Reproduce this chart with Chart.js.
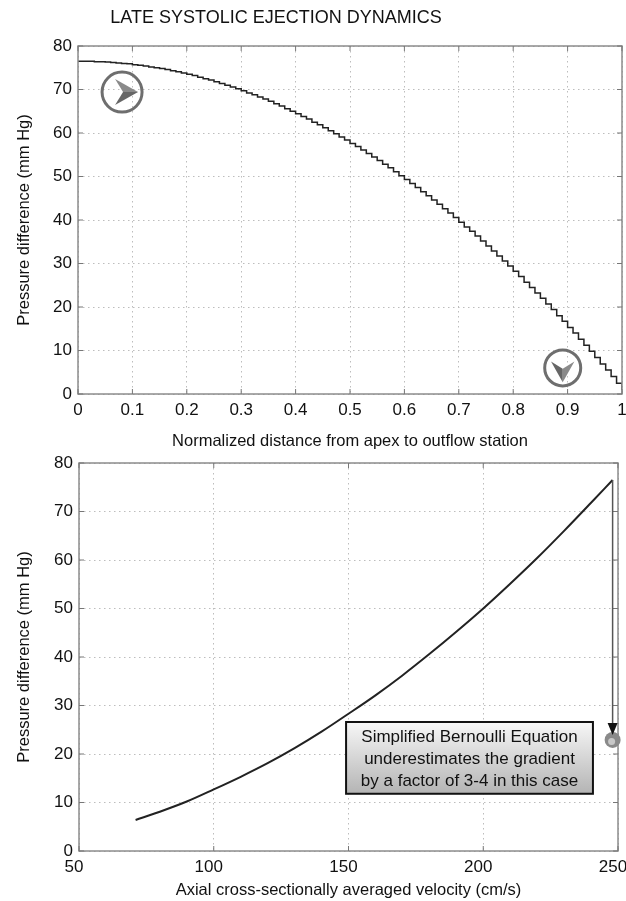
<!DOCTYPE html>
<html>
<head>
<meta charset="utf-8">
<script src="https://cdn.jsdelivr.net/npm/chart.js@4.4.1/dist/chart.umd.min.js"></script>
<style>
  body { margin: 0; background: #fff; width: 626px; height: 901px; overflow: hidden; position: relative; }
  #top { position: absolute; left: 0; top: 0; width: 626px; height: 452px; }
  #bottom { position: absolute; left: 0; top: 452px; width: 626px; height: 449px; }
</style>
</head>
<body>
<div id="top"><canvas id="distChart"></canvas></div>
<div id="bottom"><canvas id="velChart"></canvas></div>
<script>
// top panel: pressure difference along the normalized distance (stepped trace)
const distance = [
  0, 0.01, 0.02, 0.03, 0.04, 0.05, 0.06, 0.07, 0.08, 0.09,
  0.1, 0.11, 0.12, 0.13, 0.14, 0.15, 0.16, 0.17, 0.18, 0.19,
  0.2, 0.21, 0.22, 0.23, 0.24, 0.25, 0.26, 0.27, 0.28, 0.29,
  0.3, 0.31, 0.32, 0.33, 0.34, 0.35, 0.36, 0.37, 0.38, 0.39,
  0.4, 0.41, 0.42, 0.43, 0.44, 0.45, 0.46, 0.47, 0.48, 0.49,
  0.5, 0.51, 0.52, 0.53, 0.54, 0.55, 0.56, 0.57, 0.58, 0.59,
  0.6, 0.61, 0.62, 0.63, 0.64, 0.65, 0.66, 0.67, 0.68, 0.69,
  0.7, 0.71, 0.72, 0.73, 0.74, 0.75, 0.76, 0.77, 0.78, 0.79,
  0.8, 0.81, 0.82, 0.83, 0.84, 0.85, 0.86, 0.87, 0.88, 0.89,
  0.9, 0.91, 0.92, 0.93, 0.94, 0.95, 0.96, 0.97, 0.98, 0.99, 1
];
const pressureAlong = [
  76.5, 76.5, 76.5, 76.4, 76.4, 76.3, 76.2, 76.1, 76.0, 75.9,
  75.7, 75.6, 75.4, 75.2, 75.0, 74.8, 74.6, 74.3, 74.1, 73.8,
  73.5, 73.2, 72.8, 72.5, 72.2, 71.8, 71.4, 71.0, 70.6, 70.2,
  69.7, 69.2, 68.8, 68.3, 67.8, 67.3, 66.7, 66.2, 65.6, 65.0,
  64.4, 63.8, 63.2, 62.5, 61.9, 61.2, 60.5, 59.8, 59.1, 58.4,
  57.6, 56.9, 56.1, 55.3, 54.5, 53.7, 52.8, 52.0, 51.1, 50.2,
  49.3, 48.4, 47.5, 46.5, 45.6, 44.6, 43.6, 42.6, 41.6, 40.6,
  39.5, 38.4, 37.4, 36.3, 35.2, 34.0, 32.9, 31.7, 30.6, 29.4,
  28.2, 27.0, 25.7, 24.5, 23.2, 22.0, 20.7, 19.4, 18.0, 16.7,
  15.3, 14.0, 12.6, 11.2, 9.8, 8.4, 6.9, 5.5, 4.0, 2.5, 1.0
];

// bottom panel: pressure difference vs averaged velocity
const velocity = [71, 80, 90, 100, 110, 120, 130, 140, 150, 160, 170, 180, 190, 200, 210, 220, 230, 240, 248];
const pressureVsVel = [6.4, 8.1, 10.2, 12.7, 15.3, 18.1, 21.2, 24.6, 28.3, 32.1, 36.2, 40.6, 45.2, 50.0, 55.1, 60.4, 66.0, 71.8, 76.5];

// simplified Bernoulli estimate (marker) and note
const bernoulliPoint = { x: 248, y: 22.9 };
const noteLines = ["Simplified Bernoulli Equation", "underestimates the gradient", "by a factor of 3-4 in this case"];
const figureTitle = "LATE SYSTOLIC EJECTION DYNAMICS";

const FONT = "'Liberation Sans', Arial, sans-serif";
const TXT = "#111";
const GRID = "#bdbdbd";

// box around plot + small inward ticks like the original
const frame = {
  id: "frame",
  afterDatasetsDraw(chart) {
    const { ctx, chartArea: a, scales } = chart;
    ctx.save();
    ctx.strokeStyle = "#8c8c8c";
    ctx.lineWidth = 1.5;
    ctx.strokeRect(a.left, a.top, a.right - a.left, a.bottom - a.top);
    ctx.lineWidth = 1;
    ctx.strokeStyle = "#777";
    ctx.beginPath();
    scales.x.ticks.forEach(t => {
      const px = scales.x.getPixelForValue(t.value);
      ctx.moveTo(px, a.bottom); ctx.lineTo(px, a.bottom - 5);
      ctx.moveTo(px, a.top); ctx.lineTo(px, a.top + 5);
    });
    scales.y.ticks.forEach(t => {
      const py = scales.y.getPixelForValue(t.value);
      ctx.moveTo(a.left, py); ctx.lineTo(a.left + 5, py);
      ctx.moveTo(a.right, py); ctx.lineTo(a.right - 5, py);
    });
    ctx.stroke();
    ctx.restore();
  }
};

// figure title sits left of the axes centre in the original
const topTitle = {
  id: "topTitle",
  afterDraw(chart) {
    const ctx = chart.ctx;
    ctx.save();
    ctx.fillStyle = TXT;
    ctx.font = "18px " + FONT;
    ctx.textAlign = "center";
    ctx.textBaseline = "middle";
    ctx.fillText(figureTitle, 276, 18);
    ctx.restore();
  }
};

function arrowBadge(ctx, cx, cy, r, angle) {
  ctx.save();
  ctx.translate(cx, cy);
  ctx.beginPath();
  ctx.arc(0, 0, r, 0, Math.PI * 2);
  ctx.lineWidth = 3;
  ctx.strokeStyle = "#6e6e6e";
  ctx.stroke();
  ctx.rotate(angle);
  const k = r / 20;
  ctx.beginPath();
  ctx.moveTo(16 * k, 0); ctx.lineTo(-7 * k, -13 * k); ctx.lineTo(1 * k, 0); ctx.closePath();
  ctx.fillStyle = "#8a8a8a";
  ctx.fill();
  ctx.beginPath();
  ctx.moveTo(16 * k, 0); ctx.lineTo(1 * k, 0); ctx.lineTo(-7 * k, 13 * k); ctx.closePath();
  ctx.fillStyle = "#666";
  ctx.fill();
  ctx.restore();
}

const badges = {
  id: "badges",
  afterDraw(chart) {
    const { ctx, scales: { x, y } } = chart;
    arrowBadge(ctx, x.getPixelForValue(0.081), y.getPixelForValue(69.4), 20, 0);
    arrowBadge(ctx, x.getPixelForValue(0.891), y.getPixelForValue(6.0), 18, Math.PI / 2);
  }
};

const note = {
  id: "note",
  afterDraw(chart) {
    const { ctx, scales: { x, y } } = chart;
    ctx.save();
    // drop arrow from curve end to the Bernoulli estimate
    const ax = x.getPixelForValue(bernoulliPoint.x);
    const yTop = y.getPixelForValue(76.5);
    const yTip = y.getPixelForValue(bernoulliPoint.y) - 6;
    ctx.strokeStyle = "#555";
    ctx.lineWidth = 1.5;
    ctx.beginPath();
    ctx.moveTo(ax, yTop); ctx.lineTo(ax, yTip - 8);
    ctx.stroke();
    const cy = y.getPixelForValue(bernoulliPoint.y);
    ctx.beginPath();
    ctx.arc(ax, cy, 8, 0, Math.PI * 2);
    ctx.fillStyle = "#8a8a8a";
    ctx.fill();
    ctx.beginPath();
    ctx.arc(ax - 1, cy + 1.5, 3.5, 0, Math.PI * 2);
    ctx.fillStyle = "#c8c8c8";
    ctx.fill();
    ctx.beginPath();
    ctx.moveTo(ax, yTip + 1); ctx.lineTo(ax - 5, yTip - 11); ctx.lineTo(ax + 5, yTip - 11); ctx.closePath();
    ctx.fillStyle = "#111";
    ctx.fill();

    // text box
    const l = x.getPixelForValue(149.1), r = x.getPixelForValue(240.7);
    const t = y.getPixelForValue(26.6), b = y.getPixelForValue(11.8);
    const g = ctx.createLinearGradient(0, t, 0, b);
    g.addColorStop(0, "#f7f7f7");
    g.addColorStop(1, "#b4b4b4");
    ctx.fillStyle = g;
    ctx.fillRect(l, t, r - l, b - t);
    ctx.strokeStyle = "#111";
    ctx.lineWidth = 2;
    ctx.strokeRect(l, t, r - l, b - t);
    ctx.fillStyle = TXT;
    ctx.font = "17px " + FONT;
    ctx.textAlign = "center";
    ctx.textBaseline = "middle";
    noteLines.forEach((s, i) => ctx.fillText(s, (l + r) / 2, t + 15 + i * 22));
    ctx.restore();
  }
};

function fixWidth(w) {
  return scale => { scale.width = w; scale.paddingTop = 0; scale.paddingBottom = 0; };
}
function fixHeight(h) {
  return scale => { scale.height = h; scale.paddingLeft = 0; scale.paddingRight = 0; };
}

function axisOpts(min, max, step, title, titlePad) {
  return {
    type: "linear",
    min: min,
    max: max,
    border: { display: false, dash: [1.5, 3.5] },
    grid: { color: GRID, drawTicks: false, lineWidth: 1 },
    ticks: {
      stepSize: step, color: TXT, font: { family: FONT, size: 17 }, padding: 6, maxRotation: 0, autoSkip: false,
      callback: v => String(Math.round(v * 10) / 10)
    },
    title: { display: true, text: title, color: TXT, font: { family: FONT, size: 16.5 }, padding: titlePad }
  };
}

const ctx1 = document.getElementById("distChart").getContext("2d");
const ctx2 = document.getElementById("velChart").getContext("2d");

const distChart = new Chart(ctx1, {
  type: "line",
  data: {
    datasets: [{
      data: distance.map((d, i) => ({ x: d, y: pressureAlong[i] })),
      borderColor: "#222",
      borderWidth: 1.5,
      pointRadius: 0,
      stepped: true,
      fill: false
    }]
  },
  options: {
    responsive: true,
    maintainAspectRatio: false,
    animation: false,
    events: [],
    layout: { padding: { left: 0, right: 4, top: 46, bottom: 0 } },
    plugins: {
      legend: { display: false },
      tooltip: { enabled: false },
      title: { display: false }
    },
    scales: {
      x: Object.assign(axisOpts(0, 1, 0.1, "Normalized distance from apex to outflow station", { top: 0, bottom: 1 }), { afterFit: fixHeight(58) }),
      y: Object.assign(axisOpts(0, 80, 10, "Pressure difference (mm Hg)", { top: 15, bottom: 0 }), { afterFit: fixWidth(78) })
    }
  },
  plugins: [frame, badges, topTitle]
});

const velX = axisOpts(50, 250, 50, "Axial cross-sectionally averaged velocity (cm/s)", { top: 0, bottom: 1 });
velX.ticks.labelOffset = -5;
velX.afterFit = fixHeight(50);

const velChart = new Chart(ctx2, {
  type: "line",
  data: {
    datasets: [{
      data: velocity.map((v, i) => ({ x: v, y: pressureVsVel[i] })),
      borderColor: "#222",
      borderWidth: 2,
      pointRadius: 0,
      cubicInterpolationMode: "monotone",
      fill: false
    }]
  },
  options: {
    responsive: true,
    maintainAspectRatio: false,
    animation: false,
    events: [],
    layout: { padding: { left: 0, right: 8, top: 11, bottom: 0 } },
    plugins: {
      legend: { display: false },
      tooltip: { enabled: false }
    },
    scales: {
      x: velX,
      y: Object.assign(axisOpts(0, 80, 10, "Pressure difference (mm Hg)", { top: 15, bottom: 0 }), { afterFit: fixWidth(79) })
    }
  },
  plugins: [frame, note]
});
</script>
</body>
</html>
